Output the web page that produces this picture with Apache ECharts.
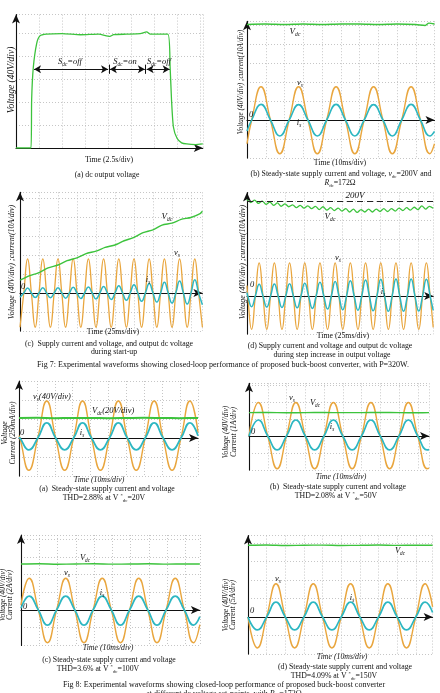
<!DOCTYPE html>
<html><head><meta charset="utf-8">
<script src="https://cdn.jsdelivr.net/npm/echarts@6/dist/echarts.min.js"></script>
<style>html,body{margin:0;padding:0;background:#fff}#c{width:440px;height:693px}</style>
</head><body><div id="c"></div>
<script>
// ---------- Fig 7 (a): dc output voltage (t in s, V) ----------
const tA7 = [0, 1.63, 1.7, 1.88, 2.25, 2.6, 3.3, 5, 7, 9, 10.2, 10.6, 12, 13.5, 14.2, 14.6, 16.5, 16.75, 16.9, 17.1, 17.5, 18, 18.55, 19.5, 20.3];
const vdcA7 = [0, 0, 84, 140, 182, 195, 198, 199, 197, 198, 194, 197, 198, 199, 202, 198, 198, 140, 84, 37, 17, 9, 7, 6, 7];
const spansA7 = [[1.96, 10.0], [10.2, 14.0], [14.2, 16.7]];
const spanLevelA7 = 137;
const sepA7 = [10.1, 14.1];

// ---------- Fig 7 (b): steady state (t in ms; V, A) ----------
const tB7 = [0, 2.5, 7.5, 12.5, 17.5, 22.5, 27.5, 32.5, 37.5, 42.5, 47.5, 52.5, 57.5, 62.5, 67.5, 72.5, 77.5, 82.5, 87.5, 92.5, 97.5, 100];
const vsB7 = [-50, 0, 70, 0, -71, 0, 70, 0, -71, 0, 70, 0, -71, 0, 70, 0, -71, 0, 70, 0, -71, -50];
const isB7 = [-5.8, 0, 8.2, 0, -8.4, 0, 8.1, 0, -8.4, 0, 8.2, 0, -8.4, 0, 8.1, 0, -8.4, 0, 8.2, 0, -8.4, -6];
const tVdcB7 = [0, 10, 20, 30, 40, 50, 60, 70, 80, 90, 95, 97, 100];
const vdcB7 = [201, 202, 201, 202, 201, 202, 202, 201, 202, 201, 199, 204, 202];

// ---------- Fig 7 (c): start-up (t in ms) ----------
const tC7 = [0,5,10,15,20,25,30,35,40,45,50,55,60,65,70,75,80,85,90,95,100,105,110,115,120,125,130,135,140,145,150,155,160,165,170,175,180,185,190,195,200,205,210,215,220,225,230,235,240];
const vsC7 = [-72,0,72,0,-72,0,72,0,-72,0,72,0,-72,0,72,0,-72,0,72,0,-72,0,72,0,-72,0,72,0,-72,0,72,0,-72,0,72,0,-72,0,72,0,-72,0,72,0,-72,0,72,0,-72];
const isC7 = [-2.2,0,2.6,0,-2.4,0,2.8,0,-2.5,0,2.7,0,-2.7,0,3.0,0,-2.9,0,3.2,0,-3.1,0,3.4,0,-3.4,0,3.8,0,-3.8,0,4.4,0,-4.3,0,5.0,0,-4.8,0,5.6,0,-5.3,0,6.3,0,-5.8,0,7.0,0,-6.2];
const tVdcC7 = [0, 12, 25, 37, 50, 62, 75, 87, 100, 112, 125, 137, 150, 162, 175, 187, 200, 212, 225, 237, 240];
const vdcC7 = [27, 36, 43, 53, 59, 68, 74, 83, 88, 96, 101, 110, 117, 127, 133, 143, 147, 155, 159, 167, 172];

// ---------- Fig 7 (d): step in output voltage (t in ms) ----------
const tD7 = [0,1,6,11,16,21,26,31,36,41,46,51,56,61,66,71,76,81,86,91,96,101,106,111,116,121,126,131,136,141,146,151,156,161,166,171,176,181,186,191,196,201,206,211,216,221,226,231,236,241,245];
const vsD7 = [22,0,-70,0,70,0,-70,0,70,0,-70,0,70,0,-70,0,70,0,-70,0,70,0,-70,0,70,0,-70,0,70,0,-70,0,70,0,-70,0,70,0,-70,0,70,0,-70,0,70,0,-70,0,70,0,-66];
const isD7 = [1.8,0,-5.6,0,6.2,0,-5.8,0,6.3,0,-6.0,0,6.5,0,-6.2,0,6.8,0,-6.5,0,7.2,0,-6.8,0,7.6,0,-7.2,0,8.0,0,-7.5,0,8.4,0,-7.8,0,8.8,0,-8.0,0,9.0,0,-8.0,0,9.0,0,-7.9,0,8.8,0,-7.5];
const tVdcD7 = [0,5,10,15,20,25,30,35,40,45,50,55,60,65,70,75,80,85,90,95,100,105,110,115,120,125,130,135,140,145,150,155,160,165,170,175,180,185,190,195,200,205,210,215,220,225,230,235,240,245];
const vdcD7 = [203,197,202,195,200,193,198,191,196,189,194,188,192,186,191,185,190,184,189,182,188,181,186,180,185,179,184,177,183,176,182,177,183,177,183,178,184,178,184,179,185,180,186,181,187,182,190,183,189,185];
const refD7 = 200;

// ---------- Fig 8 (a): V*dc = 20 V ----------
const tA8 = [0,0.5,5.5,10.5,15.5,20.5,25.5,30.5,35.5,40.5,45.5,50.5,55.5,60.5,65.5,70.5,75.5,80.5,85.5,90.5,95.5,100];
const vsA8 = [5,0,-68,0,78,0,-68,0,78,0,-68,0,78,0,-68,0,78,0,-68,0,78,12];
const isA8 = [0.01,0,-0.155,0,0.2,0,-0.155,0,0.2,0,-0.155,0,0.2,0,-0.155,0,0.2,0,-0.155,0,0.2,0.03];
const tVdcA8 = [0,10,20,30,40,50,60,70,80,90,100];
const vdcA8 = [21,21.2,20.9,21,21.1,20.8,21,21.2,21,20.9,21];

// ---------- Fig 8 (b): V*dc = 50 V ----------
const tB8 = [0,5,10,15,20,25,30,35,40,45,50,55,60,65,70,75,80,85,90,95,96];
const vsB8 = [0,79,0,-77,0,79,0,-77,0,79,0,-77,0,79,0,-77,0,79,0,-77,-76];
const isB8 = [0,0.94,0,-0.82,0,0.94,0,-0.82,0,0.94,0,-0.82,0,0.94,0,-0.82,0,0.94,0,-0.82,-0.8];
const tVdcB8 = [0,10,20,30,40,50,60,70,80,90,96];
const vdcB8 = [55,55.3,54.8,55,55.2,54.9,55,55.3,55,54.8,55];

// ---------- Fig 8 (c): V*dc = 100 V ----------
const tC8 = [0,4.5,9.5,14.5,19.5,24.5,29.5,34.5,39.5,44.5,49.5,54.5,59.5,64.5,69.5,74.5,79.5,84.5,89.5,94.5,98];
const vsC8 = [11,72,0,-74,0,72,0,-74,0,72,0,-74,0,72,0,-74,0,72,0,-74,-33];
const isC8 = [0.2,1.58,0,-1.7,0,1.58,0,-1.7,0,1.58,0,-1.7,0,1.58,0,-1.7,0,1.58,0,-1.7,-0.75];
const tVdcC8 = [0,10,20,30,40,50,60,70,80,90,98];
const vdcC8 = [104,104.5,103.6,104,104.6,103.8,104,104.5,103.7,104.2,104];

// ---------- Fig 8 (d): V*dc = 150 V ----------
const tD8 = [0,5,10,15,20,25,30,35,40,45,50,55,60,65,70,75,80,85,90,95,99];
const vsD8 = [0,-67,0,72,0,-67,0,72,0,-67,0,72,0,-67,0,72,0,-67,0,72,22];
const isD8 = [0,-3.5,0,4.0,0,-3.5,0,4.0,0,-3.5,0,4.0,0,-3.5,0,4.0,0,-3.5,0,4.0,1.2];
const tVdcD8 = [0,10,20,30,40,50,60,70,80,90,99];
const vdcD8 = [155,155.6,154.6,155.2,155.5,154.7,155,155.6,154.8,155.3,155];

// ---------------------------------------------------------------
const F = '"Liberation Serif","DejaVu Serif",serif';
const ORANGE = '#E9A63E', CYAN = '#2DB7C2', GREEN = '#3CC33C', INK = '#111';

const grids = [
  {left:16, top:14.6, width:186.8, height:133.4},
  {left:247, top:21.2, width:187.5, height:136.8},
  {left:20, top:192.3, width:182.4, height:138.7},
  {left:247, top:192.5, width:186.2, height:141.55},
  {left:19, top:381, width:179, height:95},
  {left:249, top:383.3, width:180, height:86.7},
  {left:21, top:535, width:178.85, height:110.45},
  {left:248, top:535.6, width:184.6, height:118.4}
];
const xCfg = [[20.3,2.5],[100,10],[240,25],[245,25],[100,10],[96,10],[98,10],[99,10]];
const yCfg = [[0,232,40],[-2,5.2,1],[-2,5.3,1],[-2,5.45,1],[-2,3,1],[-2,3.1,1],[-2,4.24,1],[-2,4.4,1]];

const split = {show:true, lineStyle:{color:'#b8b8b8', type:[1,2], width:0.8}};
const xAxis = xCfg.map((c,i)=>({gridIndex:i, type:'value', min:0, max:c[0], interval:c[1],
  axisLine:{onZero:true, lineStyle:{color:INK, width:1.1}, symbol:['none','arrow'], symbolSize:[6,9]},
  axisTick:{show:false}, axisLabel:{show:false}, splitLine:split}));
const yAxis = yCfg.map((c,i)=>({gridIndex:i, type:'value', min:c[0], max:c[1], interval:c[2],
  axisLine:{show:true, onZero:false, lineStyle:{color:INK, width:1.1}, symbol:['none','arrow'], symbolSize:[6,9]},
  axisTick:{show:false}, axisLabel:{show:false}, splitLine:split}));

function trace(gi, t, v, scale, color, w, smooth, extra){
  return Object.assign({type:'line', xAxisIndex:gi, yAxisIndex:gi, showSymbol:false, symbol:'none',
    smooth:smooth, animation:false, silent:true,
    lineStyle:{color:color, width:w}, data:t.map((x,j)=>[x, v[j]/scale])}, extra||{});
}

const series = [];
// Fig7 (a)
series.push(trace(0, tA7, vdcA7, 1, GREEN, 1.3, 0.2, {
  markLine:{silent:true, animation:false, symbol:['arrow','arrow'], symbolSize:[6,7], label:{show:false},
    lineStyle:{color:INK, width:1, type:'solid'},
    data: spansA7.map(s=>[{coord:[s[0], spanLevelA7]},{coord:[s[1], spanLevelA7]}])
      .concat(sepA7.map(x=>[{coord:[x, spanLevelA7-8], symbol:'none'},{coord:[x, spanLevelA7+8], symbol:'none'}]))}
}));
// Fig7 (b)
series.push(trace(1, tB7, vsB7, 40, ORANGE, 1.4, 0.5));
series.push(trace(1, tB7, isB7, 10, CYAN, 1.6, 0.5));
series.push(trace(1, tVdcB7, vdcB7, 40, GREEN, 1.4, 0.3));
// Fig7 (c)
series.push(trace(2, tC7, vsC7, 40, ORANGE, 1.3, 0.5));
series.push(trace(2, tC7, isC7, 10, CYAN, 1.5, 0.5));
series.push(trace(2, tVdcC7, vdcC7, 40, GREEN, 1.4, 0.2));
// Fig7 (d)
series.push(trace(3, tD7, vsD7, 40, ORANGE, 1.3, 0.5));
series.push(trace(3, tD7, isD7, 10, CYAN, 1.5, 0.5));
series.push(trace(3, tVdcD7, vdcD7, 40, GREEN, 1.3, 0.3, {
  markLine:{silent:true, animation:false, symbol:'none', label:{show:false},
    lineStyle:{color:'#222', width:1.1, type:[6,4]}, data:[{yAxis: refD7/40}]}
}));
// Fig8
series.push(trace(4, tA8, vsA8, 40, ORANGE, 1.4, 0.5));
series.push(trace(4, tA8, isA8, 0.25, CYAN, 1.8, 0.5));
series.push(trace(4, tVdcA8, vdcA8, 20, GREEN, 2, 0.3));
series.push(trace(5, tB8, vsB8, 40, ORANGE, 1.4, 0.5));
series.push(trace(5, tB8, isB8, 1, CYAN, 1.7, 0.5));
series.push(trace(5, tVdcB8, vdcB8, 40, GREEN, 1.4, 0.3));
series.push(trace(6, tC8, vsC8, 40, ORANGE, 1.4, 0.5));
series.push(trace(6, tC8, isC8, 2, CYAN, 1.7, 0.5));
series.push(trace(6, tVdcC8, vdcC8, 40, GREEN, 1.4, 0.3));
series.push(trace(7, tD8, vsD8, 40, ORANGE, 1.4, 0.5));
series.push(trace(7, tD8, isD8, 5, CYAN, 1.7, 0.5));
series.push(trace(7, tVdcD8, vdcD8, 40, GREEN, 1.4, 0.3));

// ---------- text ----------
function rich(fs){
  return {
    i:{fontSize:fs, fontStyle:'italic', fontFamily:F, fill:INK, lineHeight:fs*1.25},
    s:{fontSize:fs*0.62, fontStyle:'italic', fontFamily:F, fill:INK, lineHeight:fs*0.62, verticalAlign:'bottom'},
    b:{fontSize:fs*0.62, fontFamily:F, fill:INK, lineHeight:fs*0.62, verticalAlign:'bottom'},
    p:{fontSize:fs*0.62, fontFamily:F, fill:INK, lineHeight:fs*0.62, verticalAlign:'top'}
  };
}
function T(x, y, text, o){
  o = o || {};
  const fs = o.fs || 7.8;
  return {type:'text', x:x, y:y, rotation:o.rot?Math.PI/2:0, silent:true, z:100,
    style:{text:text, fill:INK, fontSize:fs, fontFamily:F, fontStyle:o.it?'italic':'normal',
      align:o.al||'center', verticalAlign:'middle', lineHeight:fs*1.25, rich:rich(fs)}};
}
const VI = 'Voltage (40V/div) ;current(10A/div)';
const g = [
  // Fig 7 (a)
  T(11, 80, 'Voltage (40V/div)', {it:1, rot:1, fs:9.5}),
  T(109, 160, 'Time (2.5s/div)'),
  T(107, 175, '(a) dc output voltage'),
  T(70, 62, '{i|S}{s|dc}{i|=off}', {fs:8.5}),
  T(125, 62, '{i|S}{s|dc}{i|=on}', {fs:8.5}),
  T(159, 62, '{i|S}{s|dc}{i|=off}', {fs:8.5}),
  // Fig 7 (b)
  T(241, 82, VI, {it:1, rot:1, fs:7.3}),
  T(340, 163, 'Time (10ms/div)'),
  T(341, 174, '(b) Steady-state supply current and voltage, {i|v}{b|dc}=200V and'),
  T(340, 183, '{i|R}{b|dc}=172Ω'),
  T(295, 32, '{i|V}{s|dc}', {fs:9}),
  T(300, 83, '{i|v}{s|s}', {fs:8.5}),
  T(299, 123, '{i|i}{s|s}', {fs:8.5}),
  T(251, 115, '0', {it:1, fs:8.5}),
  // Fig 7 (c)
  T(11.5, 262, VI, {it:1, rot:1, fs:8}),
  T(113, 332, 'Time (25ms/div)'),
  T(109, 344, '(c)  Supply current and voltage, and output dc voltage'),
  T(114, 352, 'during start-up'),
  T(167, 217, '{i|V}{s|dc}', {fs:9}),
  T(177, 253, '{i|v}{s|s}', {fs:8.5}),
  T(148, 280, '{i|i}{s|s}', {fs:8.5}),
  T(23, 287, '0', {it:1, fs:8.5}),
  T(223, 365, 'Fig 7: Experimental waveforms showing closed-loop performance of proposed buck-boost converter, with P=320W.', {fs:8}),
  // Fig 7 (d)
  T(243, 262, VI, {it:1, rot:1, fs:8}),
  T(343, 336, 'Time (25ms/div)'),
  T(330, 346, '(d) Supply current and voltage and output dc voltage'),
  T(332, 355, 'during step increase in output voltage'),
  T(355, 196, '200V', {it:1, fs:9}),
  T(330, 217, '{i|V}{s|dc}', {fs:9}),
  T(338, 258, '{i|v}{s|s}', {fs:8.5}),
  T(383, 292, '{i|i}{s|s}', {fs:8.5}),
  T(252, 285, '0', {it:1, fs:8.5}),
  // Fig 8 (a)
  T(5, 433, 'Voltage', {it:1, rot:1}),
  T(13.5, 433, 'Current (250mA/div)', {it:1, rot:1, fs:7.5}),
  T(33, 397, '{i|v}{s|s}{i|(40V/div)}', {fs:8.5, al:'left'}),
  T(92, 411, '{i|V}{s|dc}{i|(20V/div)}', {fs:8.5, al:'left'}),
  T(82, 433, '{i|i}{s|s}', {fs:8.5}),
  T(22, 433, '0', {it:1, fs:8.5}),
  T(99, 480, 'Time (10ms/div)', {it:1}),
  T(107, 489, '(a)  Steady-state supply current and voltage'),
  T(104, 498, 'THD=2.88% at V {p|*}{b|dc}=20V'),
  // Fig 8 (b)
  T(226.5, 432, 'Voltage (40V/div)', {it:1, rot:1, fs:7.5}),
  T(234, 432, 'Current (1A/div)', {it:1, rot:1, fs:7.5}),
  T(292, 398, '{i|v}{s|s}', {fs:8.5}),
  T(315, 403, '{i|V}{s|dc}', {fs:8.5}),
  T(332, 427, '{i|i}{s|s}', {fs:8.5}),
  T(253, 432, '0', {it:1, fs:8.5}),
  T(341, 477, 'Time (10ms/div)', {it:1}),
  T(338, 487, '(b)  Steady-state supply current and voltage'),
  T(336, 496, 'THD=2.08% at V {p|*}{b|dc}=50V'),
  // Fig 8 (c)
  T(3.5, 595, 'Voltage (40V/div)', {it:1, rot:1, fs:7.5}),
  T(10.5, 595, 'Current (2A/div)', {it:1, rot:1, fs:7.5}),
  T(85, 558, '{i|V}{s|dc}', {fs:8.5}),
  T(67, 573, '{i|v}{s|s}', {fs:8.5}),
  T(102, 593, '{i|i}{s|s}', {fs:8.5}),
  T(25, 607, '0', {it:1, fs:8.5}),
  T(108, 648, 'Time (10ms/div)', {it:1}),
  T(109, 660, '(c) Steady-state supply current and voltage'),
  T(98, 669, 'THD=3.6% at V {p|*}{b|dc}=100V'),
  // Fig 8 (d)
  T(226, 605, 'Voltage (40V/div)', {it:1, rot:1, fs:7.5}),
  T(233.5, 605, 'Current (5A/div)', {it:1, rot:1, fs:7.5}),
  T(400, 551, '{i|V}{s|dc}', {fs:8.5}),
  T(278, 579, '{i|v}{s|s}', {fs:8.5}),
  T(352, 598, '{i|i}{s|s}', {fs:8.5}),
  T(252, 611, '0', {it:1, fs:8.5}),
  T(342, 657, 'Time (10ms/div)', {it:1}),
  T(345, 667, '(d) Steady-state supply current and voltage'),
  T(334, 676, 'THD=4.09% at V {p|*}{b|dc}=150V'),
  T(224, 685, 'Fig 8: Experimental waveforms showing closed-loop performance of proposed buck-boost converter', {fs:8}),
  T(224, 694, 'at different dc voltage set-points, with {i|R}{b|dc}=172Ω', {fs:8})
];

const chart = echarts.init(document.getElementById('c'), null, {renderer:'canvas'});
chart.setOption({animation:false, backgroundColor:'#fff', grid:grids, xAxis:xAxis, yAxis:yAxis, series:series, graphic:g});
</script></body></html>
